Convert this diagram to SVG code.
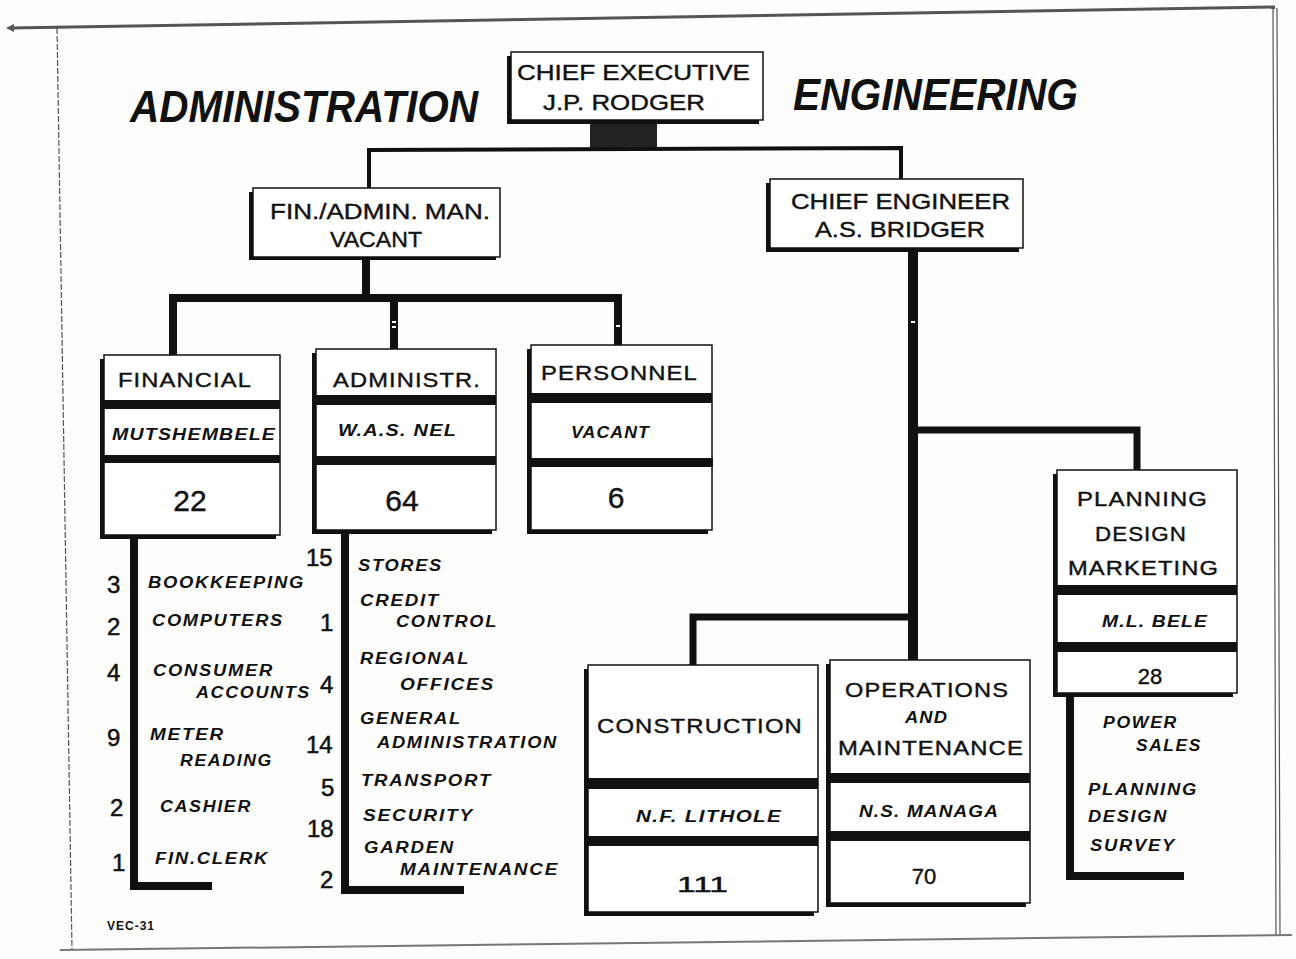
<svg xmlns="http://www.w3.org/2000/svg" width="1296" height="959" viewBox="0 0 1296 959">
<style>
.t{font-family:"Liberation Sans",Arial,sans-serif;fill:#111}
.h{font-size:21px;letter-spacing:1px;stroke:#111;stroke-width:0.4}
.n{font-size:16px;font-weight:bold;font-style:italic;letter-spacing:1px}
.num{font-size:30px;stroke:#111;stroke-width:0.4}
.s{font-size:16px;font-weight:bold;font-style:italic;letter-spacing:1.5px}
.c{font-size:22px;stroke:#111;stroke-width:0.4}
.d{font-size:24px;stroke:#111;stroke-width:0.5}
.big{font-size:44px;font-weight:bold;font-style:italic}
.box{fill:#fff;stroke:#111;stroke-width:1.5}
.sh{fill:#111}
.bar{fill:#111}
.ln{fill:none;stroke:#111;stroke-linecap:square;stroke-linejoin:miter}
</style>
<rect width="1296" height="959" fill="#fdfdfb"/>
<g id="frame" fill="none" stroke="#555">
<path d="M10 28 L1275 7" stroke-width="3"/>
<path d="M6 28 L14 24 L14 32 Z" fill="#555" stroke="none"/>
<path d="M1273 8 L1276 935 M1277 8 L1280 935" stroke-width="1.2"/>
<path d="M57 28 L72 950" stroke-width="1.2" stroke-dasharray="6 2"/>
<path d="M60 950 L1292 935" stroke-width="2" stroke="#777"/>
</g>
<g id="titles">
<text class="t big" x="130" y="122" textLength="348" lengthAdjust="spacingAndGlyphs">ADMINISTRATION</text>
<text class="t big" x="793" y="110" textLength="285" lengthAdjust="spacingAndGlyphs">ENGINEERING</text>
<text class="t" x="107" y="930" font-size="12" font-weight="bold" letter-spacing="1">VEC-31</text>
</g>
<g id="connectors">
<rect x="590" y="120" width="67" height="28" fill="#222"/>
<path class="ln" d="M369 190 L369 150 L901 148 L901 179" stroke-width="4"/>
<path class="ln" d="M366 258 L366 298" stroke-width="8"/>
<path class="ln" d="M173 355 L173 298 L618 298 L618 347" stroke-width="8"/>
<path class="ln" d="M394 298 L394 349" stroke-width="8"/>
<path class="ln" d="M134 535 L134 886 L208 886" stroke-width="8"/>
<path class="ln" d="M345 530 L345 890 L460 890" stroke-width="8"/>
<path class="ln" d="M913 248 L913 660" stroke-width="10"/>
<path class="ln" d="M913 430 L1137 430 L1137 470" stroke-width="7"/>
<path class="ln" d="M913 617 L693 617 L693 665" stroke-width="7"/>
<path class="ln" d="M1070 693 L1070 876 L1180 876" stroke-width="8"/>
<path d="M392 322 h4 M392 327 h4 M616 326 h4 M911 322 h4" stroke="#fff" stroke-width="2"/>
</g>
<g id="ceo">
<rect class="sh" x="507" y="56" width="252" height="68"/>
<rect class="box" x="511" y="52" width="252" height="68"/>
<text class="t c" x="517" y="80" textLength="233" lengthAdjust="spacingAndGlyphs">CHIEF EXECUTIVE</text>
<text class="t c" x="543" y="110" textLength="162" lengthAdjust="spacingAndGlyphs">J.P. RODGER</text>
</g>
<g id="finadmin">
<rect class="sh" x="249" y="192" width="247" height="68"/>
<rect class="box" x="253" y="188" width="247" height="69"/>
<text class="t c" x="270" y="219" textLength="220" lengthAdjust="spacingAndGlyphs">FIN./ADMIN. MAN.</text>
<text class="t c" x="330" y="247" textLength="92" lengthAdjust="spacingAndGlyphs">VACANT</text>
</g>
<g id="chiefeng">
<rect class="sh" x="766" y="183" width="253" height="69"/>
<rect class="box" x="770" y="179" width="253" height="69"/>
<text class="t c" x="791" y="209" textLength="219" lengthAdjust="spacingAndGlyphs">CHIEF ENGINEER</text>
<text class="t c" x="815" y="237" textLength="170" lengthAdjust="spacingAndGlyphs">A.S. BRIDGER</text>
</g>
<g id="financial">
<rect class="sh" x="100" y="359" width="176" height="180"/>
<rect class="box" x="104" y="355" width="176" height="180"/>
<rect class="bar" x="104" y="400" width="176" height="9"/>
<rect class="bar" x="104" y="455" width="176" height="8"/>
<text class="t h" x="118" y="387" textLength="134" lengthAdjust="spacingAndGlyphs">FINANCIAL</text>
<text class="t n" x="112" y="440" textLength="164" lengthAdjust="spacingAndGlyphs">MUTSHEMBELE</text>
<text class="t num" x="190" y="511" text-anchor="middle">22</text>
</g>
<g id="administr">
<rect class="sh" x="312" y="353" width="180" height="181"/>
<rect class="box" x="316" y="349" width="180" height="181"/>
<rect class="bar" x="316" y="395" width="180" height="10"/>
<rect class="bar" x="316" y="456" width="180" height="9"/>
<text class="t h" x="333" y="387" textLength="148" lengthAdjust="spacingAndGlyphs">ADMINISTR.</text>
<text class="t n" x="338" y="436" textLength="119" lengthAdjust="spacingAndGlyphs">W.A.S. NEL</text>
<text class="t num" x="402" y="511" text-anchor="middle">64</text>
</g>
<g id="personnel">
<rect class="sh" x="527" y="349" width="181" height="185"/>
<rect class="box" x="531" y="345" width="181" height="185"/>
<rect class="bar" x="531" y="393" width="181" height="10"/>
<rect class="bar" x="531" y="458" width="182" height="9"/>
<text class="t h" x="541" y="380" textLength="157" lengthAdjust="spacingAndGlyphs">PERSONNEL</text>
<text class="t n" x="571" y="438" font-size="15" textLength="79" lengthAdjust="spacingAndGlyphs">VACANT</text>
<text class="t num" x="616" y="508" text-anchor="middle">6</text>
</g>
<g id="financial-items">
<text class="t d" x="107" y="593">3</text>
<text class="t d" x="107" y="635">2</text>
<text class="t d" x="107" y="681">4</text>
<text class="t d" x="107" y="746">9</text>
<text class="t d" x="110" y="816">2</text>
<text class="t d" x="112" y="871">1</text>
<text class="t s" x="148" y="588" textLength="157" lengthAdjust="spacingAndGlyphs">BOOKKEEPING</text>
<text class="t s" x="152" y="626" textLength="132" lengthAdjust="spacingAndGlyphs">COMPUTERS</text>
<text class="t s" x="153" y="676" textLength="121" lengthAdjust="spacingAndGlyphs">CONSUMER</text>
<text class="t s" x="196" y="698" textLength="115" lengthAdjust="spacingAndGlyphs">ACCOUNTS</text>
<text class="t s" x="150" y="740" textLength="75" lengthAdjust="spacingAndGlyphs">METER</text>
<text class="t s" x="180" y="766" textLength="93" lengthAdjust="spacingAndGlyphs">READING</text>
<text class="t s" x="160" y="812" textLength="92" lengthAdjust="spacingAndGlyphs">CASHIER</text>
<text class="t s" x="155" y="864" textLength="114" lengthAdjust="spacingAndGlyphs">FIN.CLERK</text>
</g>
<g id="admin-items">
<text class="t d" x="306" y="566">15</text>
<text class="t d" x="320" y="631">1</text>
<text class="t d" x="320" y="693">4</text>
<text class="t d" x="306" y="753">14</text>
<text class="t d" x="321" y="796">5</text>
<text class="t d" x="307" y="837">18</text>
<text class="t d" x="320" y="888">2</text>
<text class="t s" x="358" y="571" textLength="85" lengthAdjust="spacingAndGlyphs">STORES</text>
<text class="t s" x="360" y="606" textLength="80" lengthAdjust="spacingAndGlyphs">CREDIT</text>
<text class="t s" x="396" y="627" textLength="102" lengthAdjust="spacingAndGlyphs">CONTROL</text>
<text class="t s" x="360" y="664" textLength="110" lengthAdjust="spacingAndGlyphs">REGIONAL</text>
<text class="t s" x="400" y="690" textLength="95" lengthAdjust="spacingAndGlyphs">OFFICES</text>
<text class="t s" x="360" y="724" textLength="102" lengthAdjust="spacingAndGlyphs">GENERAL</text>
<text class="t s" x="377" y="748" textLength="181" lengthAdjust="spacingAndGlyphs">ADMINISTRATION</text>
<text class="t s" x="361" y="786" textLength="131" lengthAdjust="spacingAndGlyphs">TRANSPORT</text>
<text class="t s" x="363" y="821" textLength="111" lengthAdjust="spacingAndGlyphs">SECURITY</text>
<text class="t s" x="364" y="853" textLength="91" lengthAdjust="spacingAndGlyphs">GARDEN</text>
<text class="t s" x="400" y="875" textLength="159" lengthAdjust="spacingAndGlyphs">MAINTENANCE</text>
</g>
<g id="construction">
<rect class="sh" x="584" y="669" width="230" height="247"/>
<rect class="box" x="588" y="665" width="230" height="247"/>
<rect class="bar" x="588" y="778" width="230" height="11"/>
<rect class="bar" x="588" y="836" width="230" height="10"/>
<text class="t h" x="597" y="733" textLength="206" lengthAdjust="spacingAndGlyphs">CONSTRUCTION</text>
<text class="t n" x="636" y="822" textLength="146" lengthAdjust="spacingAndGlyphs">N.F. LITHOLE</text>
<text class="t c" x="677" y="892" textLength="51" lengthAdjust="spacingAndGlyphs">111</text>
</g>
<g id="operations">
<rect class="sh" x="826" y="664" width="200" height="243"/>
<rect class="box" x="830" y="660" width="200" height="243"/>
<rect class="bar" x="830" y="773" width="200" height="10"/>
<rect class="bar" x="830" y="831" width="200" height="10"/>
<text class="t h" x="845" y="697" textLength="164" lengthAdjust="spacingAndGlyphs">OPERATIONS</text>
<text class="t n" x="905" y="723" textLength="43" lengthAdjust="spacingAndGlyphs">AND</text>
<text class="t h" x="838" y="755" textLength="186" lengthAdjust="spacingAndGlyphs">MAINTENANCE</text>
<text class="t n" x="859" y="817" textLength="140" lengthAdjust="spacingAndGlyphs">N.S. MANAGA</text>
<text class="t c" x="924" y="884" font-size="24" text-anchor="middle">70</text>
</g>
<g id="planning">
<rect class="sh" x="1053" y="474" width="180" height="223"/>
<rect class="box" x="1057" y="470" width="180" height="223"/>
<rect class="bar" x="1057" y="585" width="180" height="10"/>
<rect class="bar" x="1057" y="642" width="180" height="10"/>
<text class="t h" x="1077" y="506" textLength="131" lengthAdjust="spacingAndGlyphs">PLANNING</text>
<text class="t h" x="1095" y="541" textLength="92" lengthAdjust="spacingAndGlyphs">DESIGN</text>
<text class="t h" x="1068" y="575" textLength="151" lengthAdjust="spacingAndGlyphs">MARKETING</text>
<text class="t n" x="1102" y="627" textLength="106" lengthAdjust="spacingAndGlyphs">M.L. BELE</text>
<text class="t c" x="1150" y="684" font-size="24" text-anchor="middle">28</text>
</g>
<g id="planning-items">
<text class="t s" x="1103" y="728" textLength="75" lengthAdjust="spacingAndGlyphs">POWER</text>
<text class="t s" x="1136" y="751" textLength="66" lengthAdjust="spacingAndGlyphs">SALES</text>
<text class="t s" x="1088" y="795" textLength="110" lengthAdjust="spacingAndGlyphs">PLANNING</text>
<text class="t s" x="1088" y="822" textLength="80" lengthAdjust="spacingAndGlyphs">DESIGN</text>
<text class="t s" x="1090" y="851" textLength="86" lengthAdjust="spacingAndGlyphs">SURVEY</text>
</g>
</svg>
